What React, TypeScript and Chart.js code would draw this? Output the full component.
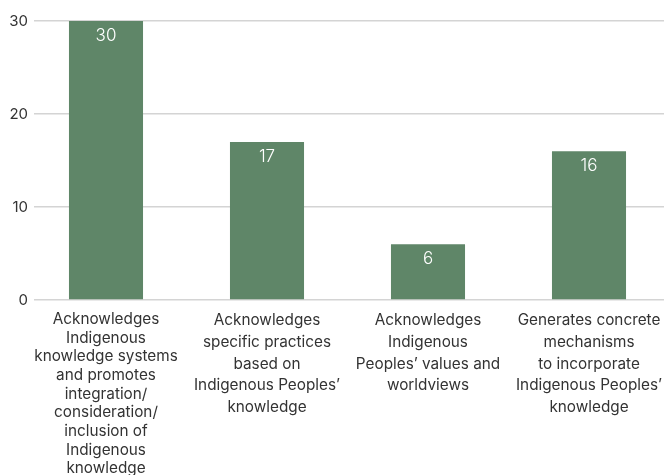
import React, { useEffect, useRef } from "react";
import { Chart, registerables } from "chart.js";

Chart.register(...registerables);

const categories: string[][] = [
  ["Acknowledges", "Indigenous", "knowledge systems", "and promotes", "integration/", "consideration/", "inclusion of", "Indigenous", "knowledge"],
  ["Acknowledges", "specific practices", "based on", "Indigenous Peoples’", "knowledge"],
  ["Acknowledges", "Indigenous", "Peoples’ values and", "worldviews"],
  ["Generates concrete", "mechanisms", "to incorporate", "Indigenous Peoples’", "knowledge"],
];
const values: number[] = [30, 17, 6, 16];
const yTicks: number[] = [0, 10, 20, 30];

const BAR_COLOR = "#5f8668";
const TEXT_COLOR = "#333333";
const GRID_COLOR = "#d4d4d4";
const FONT = "Inter, 'Noto Sans', sans-serif";

const valueLabels = {
  id: "valueLabels",
  afterDatasetsDraw(chart: any) {
    const ctx = chart.ctx;
    const meta = chart.getDatasetMeta(0);
    ctx.save();
    ctx.fillStyle = "#ffffff";
    ctx.font = `300 17px ${FONT}`;
    ctx.textAlign = "center";
    ctx.textBaseline = "middle";
    meta.data.forEach((bar: any, i: number) => {
      ctx.fillText(String(values[i]), bar.x, bar.y + 15);
    });
    ctx.restore();
  },
};

export default function App() {
  const ref = useRef<HTMLCanvasElement>(null);
  useEffect(() => {
    if (!ref.current) return;
    const chart = new Chart(ref.current, {
      type: "bar",
      data: {
        datasets: [
          {
            data: values.map((v, i) => ({ x: i, y: v })),
            backgroundColor: BAR_COLOR,
            borderWidth: 0,
            barPercentage: 0.46,
            categoryPercentage: 1,
          },
        ],
      },
      options: {
        responsive: false,
        animation: false,
        layout: { padding: { top: 21, left: 0, right: 0, bottom: 0 } },
        plugins: {
          legend: { display: false },
          tooltip: { enabled: false },
        },
        scales: {
          x: {
            type: "linear",
            offset: false,
            min: -72 / 161,
            max: -72 / 161 + 630 / 161,
            grid: { display: false, drawTicks: false, tickLength: 0 },
            border: { display: false },
            afterBuildTicks: (scale: any) => {
              scale.ticks = categories.map((_, i) => ({ value: i }));
            },
            afterFit: (scale: any) => {
              scale.height = 175;
              scale.paddingLeft = 0;
              scale.paddingRight = 0;
            },
            ticks: {
              autoSkip: false,
              maxRotation: 0,
              minRotation: 0,
              padding: 10,
              color: TEXT_COLOR,
              font: (c: any) => ({
                family: FONT,
                size: 15.3,
                lineHeight: c.index === 0 ? 1.22 : 1.41,
              }),
              callback: (v: any) => categories[v] ?? "",
            },
          },
          y: {
            min: 0,
            max: 30,
            grid: { color: GRID_COLOR, lineWidth: 1.5, drawTicks: false },
            border: { display: false },
            afterBuildTicks: (scale: any) => {
              scale.ticks = yTicks.map((v) => ({ value: v }));
            },
            afterFit: (scale: any) => {
              scale.width = 34;
            },
            ticks: {
              padding: 6,
              color: TEXT_COLOR,
              font: { family: FONT, size: 15 },
            },
          },
        },
      },
      plugins: [valueLabels],
    });
    return () => chart.destroy();
  }, []);
  return (
    <div style={{ position: "fixed", left: 0, top: 0, width: 664, height: 475, overflow: "hidden", background: "#fff" }}>
      <canvas ref={ref} width={664} height={475} style={{ display: "block" }} />
    </div>
  );
}
